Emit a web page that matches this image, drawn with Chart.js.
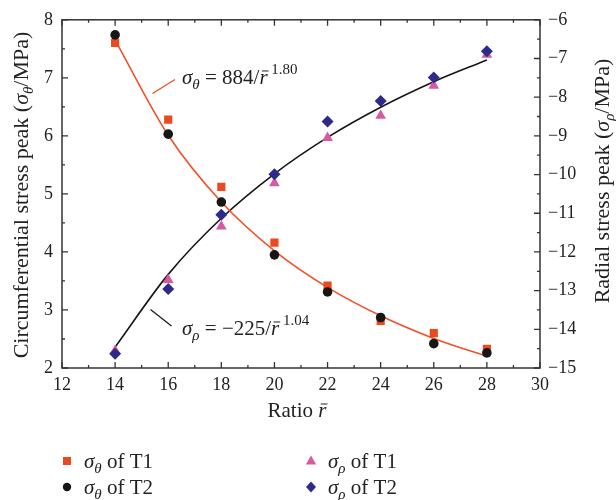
<!DOCTYPE html>
<html>
<head>
<meta charset="utf-8">
<script src="https://cdn.jsdelivr.net/npm/chart.js@4.4.1/dist/chart.umd.min.js"></script>
<style>
  html, body { margin: 0; padding: 0; background: #fff; }
  #chart { display: block; }
</style>
</head>
<body>
<canvas id="chart" width="616" height="500"></canvas>
<script>
    "use strict";

    // Data
    var ratio = [14, 16, 18, 20, 22, 24, 26, 28];
    var thetaT1 = [7.60, 6.28, 5.12, 4.16, 3.42, 2.81, 2.60, 2.33];
    var thetaT2 = [7.74, 6.03, 4.86, 3.95, 3.31, 2.87, 2.42, 2.26];
    var rhoT1 = [-14.55, -12.72, -11.34, -10.22, -9.05, -8.48, -7.70, -6.90];
    var rhoT2 = [-14.63, -12.96, -11.04, -9.99, -8.63, -8.10, -7.49, -6.81];
    // fitted curves, values read at each ratio
    var thetaFit = [7.65, 6.01, 4.86, 4.02, 3.39, 2.90, 2.51, 2.20];
    var rhoFit = [-14.46, -12.58, -11.13, -9.98, -9.04, -8.26, -7.60, -7.04];

    var xTicks = [12, 14, 16, 18, 20, 22, 24, 26, 28, 30];
    var yLeftTicks = [2, 3, 4, 5, 6, 7, 8];
    var yRightTicks = [-15, -14, -13, -12, -11, -10, -9, -8, -7, -6];

    var FONT = '"Liberation Serif", "DejaVu Serif", serif';
    var RED = "#EA4A1F";
    var PINK = "#D65AA0";
    var NAVY = "#2F2A8A";
    var BLACK = "#161616";
    var TEXT = "#222";

    function pts(ys) {
        return ratio.map(function (r, i) { return { x: r, y: ys[i] }; });
    }
    function minus(v) {
        return String(v).replace("-", "\u2212");
    }

    // draws text made of pieces (italic, sub/superscripts, r-bar)
    function drawRich(ctx, x, y, parts, align) {
        var w = 0;
        parts.forEach(function (p) {
            ctx.font = (p.i ? "italic " : "") + p.s + "px " + FONT;
            p.w = ctx.measureText(p.t).width;
            w += p.w;
        });
        var cx = align === "center" ? x - w / 2 : x;
        ctx.textAlign = "left";
        ctx.textBaseline = "alphabetic";
        parts.forEach(function (p) {
            ctx.font = (p.i ? "italic " : "") + p.s + "px " + FONT;
            ctx.fillText(p.t, cx, y + (p.dy || 0));
            if (p.bar) {
                ctx.save();
                ctx.lineWidth = 1;
                ctx.strokeStyle = ctx.fillStyle;
                ctx.beginPath();
                var by = y - p.s * 0.62;
                ctx.moveTo(cx + p.w * 0.3, by);
                ctx.lineTo(cx + p.w + 1, by);
                ctx.stroke();
                ctx.restore();
            }
            cx += p.w;
        });
    }

    var decor = {
        id: "decor",
        afterDatasetsDraw: function (chart) {
            var ctx = chart.ctx;
            var a = chart.chartArea;
            var sx = chart.scales.x, sl = chart.scales.y, sr = chart.scales.y1;
            ctx.save();
            ctx.strokeStyle = "#333";
            ctx.lineWidth = 1.3;

            // inward ticks
            ctx.beginPath();
            for (var v = 12; v <= 30; v += 1) {
                var px = sx.getPixelForValue(v);
                var len = v % 2 === 0 ? 6 : 3;
                ctx.moveTo(px, a.bottom); ctx.lineTo(px, a.bottom - len);
                ctx.moveTo(px, a.top); ctx.lineTo(px, a.top + len);
            }
            for (var l = 2; l <= 8; l += 0.5) {
                var py = sl.getPixelForValue(l);
                var ll = l % 1 === 0 ? 6 : 3;
                ctx.moveTo(a.left, py); ctx.lineTo(a.left + ll, py);
            }
            for (var r = -15; r <= -6; r += 0.5) {
                var ry = sr.getPixelForValue(r);
                var rl = r % 1 === 0 ? 6 : 3;
                ctx.moveTo(a.right, ry); ctx.lineTo(a.right - rl, ry);
            }
            ctx.stroke();

            // frame
            ctx.lineWidth = 1.5;
            ctx.strokeRect(a.left, a.top, a.right - a.left, a.bottom - a.top);

            ctx.fillStyle = TEXT;

            // axis titles
            drawRich(ctx, 297, 417, [
                { t: "Ratio ", s: 21 }, { t: "r", s: 21, i: true, bar: true }
            ], "center");

            ctx.save();
            ctx.translate(28, 195);
            ctx.rotate(-Math.PI / 2);
            drawRich(ctx, 0, 0, [
                { t: "Circumferential stress peak (", s: 22 },
                { t: "\u03C3", s: 22, i: true },
                { t: "\u03B8", s: 15, i: true, dy: 5 },
                { t: "/MPa)", s: 22 }
            ], "center");
            ctx.restore();

            ctx.save();
            ctx.translate(609, 181);
            ctx.rotate(-Math.PI / 2);
            drawRich(ctx, 0, 0, [
                { t: "Radial stress peak (", s: 22 },
                { t: "\u03C3", s: 22, i: true },
                { t: "\u03C1", s: 15, i: true, dy: 5 },
                { t: "/MPa)", s: 22 }
            ], "center");
            ctx.restore();

            // curve labels with leader lines
            ctx.lineWidth = 1.2;
            ctx.strokeStyle = RED;
            ctx.beginPath();
            ctx.moveTo(152.5, 93.5); ctx.lineTo(175, 79.5);
            ctx.stroke();
            ctx.strokeStyle = BLACK;
            ctx.beginPath();
            ctx.moveTo(150.5, 309.5); ctx.lineTo(171.5, 326);
            ctx.stroke();

            drawRich(ctx, 182, 84, [
                { t: "\u03C3", s: 21, i: true },
                { t: "\u03B8", s: 15, i: true, dy: 5 },
                { t: " = 884/", s: 21 },
                { t: "r", s: 21, i: true, bar: true },
                { t: " 1.80", s: 15, dy: -10 }
            ]);
            drawRich(ctx, 182, 335, [
                { t: "\u03C3", s: 21, i: true },
                { t: "\u03C1", s: 15, i: true, dy: 5 },
                { t: " = \u2212225/", s: 21 },
                { t: "r", s: 21, i: true, bar: true },
                { t: " 1.04", s: 15, dy: -10 }
            ]);

            // legend
            var items = [
                { x: 67, y: 461, shape: "rect", color: RED, sub: "\u03B8", txt: " of T1" },
                { x: 67, y: 487, shape: "circle", color: BLACK, sub: "\u03B8", txt: " of T2" },
                { x: 311, y: 461, shape: "triangle", color: PINK, sub: "\u03C1", txt: " of T1" },
                { x: 311, y: 487, shape: "rectRot", color: NAVY, sub: "\u03C1", txt: " of T2" }
            ];
            items.forEach(function (it) {
                ctx.fillStyle = it.color;
                ctx.beginPath();
                if (it.shape === "rect") {
                    ctx.rect(it.x - 4, it.y - 4, 8, 8);
                } else if (it.shape === "circle") {
                    ctx.arc(it.x, it.y, 4.2, 0, Math.PI * 2);
                } else if (it.shape === "triangle") {
                    ctx.moveTo(it.x, it.y - 5.5); ctx.lineTo(it.x + 5.2, it.y + 3.5); ctx.lineTo(it.x - 5.2, it.y + 3.5);
                } else {
                    ctx.moveTo(it.x, it.y - 5.5); ctx.lineTo(it.x + 5, it.y); ctx.lineTo(it.x, it.y + 5.5); ctx.lineTo(it.x - 5, it.y);
                }
                ctx.closePath();
                ctx.fill();
                ctx.fillStyle = TEXT;
                drawRich(ctx, it.x + 17, it.y + 7, [
                    { t: "\u03C3", s: 21, i: true },
                    { t: it.sub, s: 15, i: true, dy: 5 },
                    { t: it.txt, s: 21 }
                ]);
            });
            ctx.restore();
        }
    };

    var tickFont = { family: FONT, size: 18 };

    var ctx1 = document.getElementById("chart").getContext("2d");
    var myChart1 = new Chart(ctx1, {
        type: "scatter",
        data: {
            datasets: [{
                    label: "theta fit",
                    data: pts(thetaFit),
                    yAxisID: "y",
                    showLine: true,
                    borderColor: "#F0522A",
                    borderWidth: 1.6,
                    pointRadius: 0,
                    cubicInterpolationMode: "monotone",
                    order: 10
                },
                {
                    label: "rho fit",
                    data: pts(rhoFit),
                    yAxisID: "y1",
                    showLine: true,
                    borderColor: BLACK,
                    borderWidth: 1.6,
                    pointRadius: 0,
                    cubicInterpolationMode: "monotone",
                    order: 10
                },
                {
                    label: "σθ of T1",
                    data: pts(thetaT1),
                    yAxisID: "y",
                    pointStyle: "rect",
                    pointRadius: 5.8,
                    backgroundColor: RED,
                    borderWidth: 0,
                    order: 2
                },
                {
                    label: "σθ of T2",
                    data: pts(thetaT2),
                    yAxisID: "y",
                    pointStyle: "circle",
                    pointRadius: 4.8,
                    backgroundColor: BLACK,
                    borderWidth: 0,
                    order: 1
                },
                {
                    label: "σρ of T1",
                    data: pts(rhoT1),
                    yAxisID: "y1",
                    pointStyle: "triangle",
                    pointRadius: 6.2,
                    backgroundColor: PINK,
                    borderWidth: 0,
                    order: 2
                },
                {
                    label: "σρ of T2",
                    data: pts(rhoT2),
                    yAxisID: "y1",
                    pointStyle: "rectRot",
                    pointRadius: 6,
                    backgroundColor: NAVY,
                    borderWidth: 0,
                    order: 1
                }
            ]
        },
        options: {
            responsive: false,
            animation: false,
            devicePixelRatio: 1,
            layout: { padding: { top: 14, left: 0, right: 0, bottom: 0 } },
            plugins: {
                legend: { display: false },
                tooltip: { enabled: false }
            },
            scales: {
                x: {
                    type: "linear",
                    min: xTicks[0],
                    max: xTicks[xTicks.length - 1],
                    afterBuildTicks: function (s) { s.ticks = xTicks.map(function (v) { return { value: v }; }); },
                    ticks: { font: tickFont, color: TEXT, padding: 6, maxRotation: 0 },
                    grid: { display: false, drawTicks: false },
                    border: { display: false },
                    afterFit: function (s) { s.height = 132; }
                },
                y: {
                    position: "left",
                    min: yLeftTicks[0],
                    max: yLeftTicks[yLeftTicks.length - 1],
                    afterBuildTicks: function (s) { s.ticks = yLeftTicks.map(function (v) { return { value: v }; }); },
                    ticks: { font: tickFont, color: TEXT, padding: 9 },
                    grid: { display: false, drawTicks: false },
                    border: { display: false },
                    afterFit: function (s) { s.width = 62; }
                },
                y1: {
                    position: "right",
                    min: yRightTicks[0],
                    max: yRightTicks[yRightTicks.length - 1],
                    afterBuildTicks: function (s) { s.ticks = yRightTicks.map(function (v) { return { value: v }; }); },
                    ticks: { font: tickFont, color: TEXT, padding: 8, callback: minus },
                    grid: { display: false, drawTicks: false },
                    border: { display: false },
                    afterFit: function (s) { s.width = 76; }
                }
            }
        },
        plugins: [decor]
    });
</script>
</body>
</html>
